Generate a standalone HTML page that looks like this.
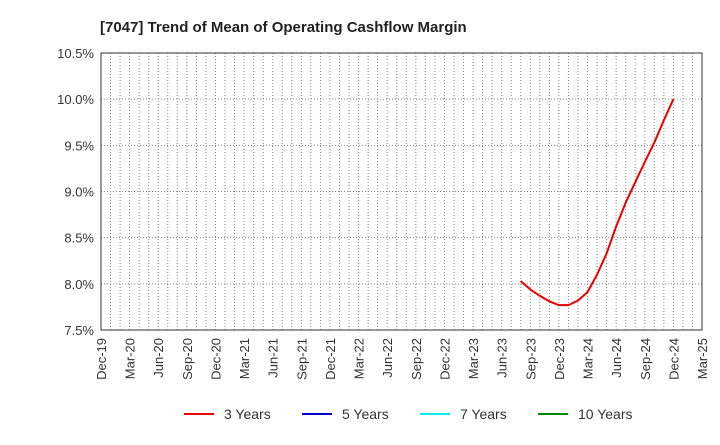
<!DOCTYPE html>
<html><head><meta charset="utf-8"><style>
body{margin:0;background:#fff;font-family:"Liberation Sans",sans-serif}
</style></head><body>
<svg id="c" width="720" height="440" xmlns="http://www.w3.org/2000/svg">
<text x="100" y="32" font-size="15" font-weight="bold" fill="#222">[7047]  Trend of Mean of Operating Cashflow Margin</text>
<g id="grid"></g><g id="axes"></g><g id="series"></g>
<g font-size="14" fill="#333">
<g><line x1="184" y1="414" x2="214" y2="414" stroke="#e00" stroke-width="2"/><text x="224" y="419">3 Years</text></g>
<g><line x1="302" y1="414" x2="332" y2="414" stroke="#00c" stroke-width="2"/><text x="342" y="419">5 Years</text></g>
<g><line x1="420" y1="414" x2="450" y2="414" stroke="#0ee" stroke-width="2"/><text x="460" y="419">7 Years</text></g>
<g><line x1="538" y1="414" x2="568" y2="414" stroke="#080" stroke-width="2"/><text x="578" y="419">10 Years</text></g>
</g>
</svg>
<script>
const xLabels=["Dec-19","Mar-20","Jun-20","Sep-20","Dec-20","Mar-21","Jun-21","Sep-21","Dec-21","Mar-22","Jun-22","Sep-22","Dec-22","Mar-23","Jun-23","Sep-23","Dec-23","Mar-24","Jun-24","Sep-24","Dec-24","Mar-25"];
const yTicks=[7.5,8.0,8.5,9.0,9.5,10.0,10.5];
const startMonth3y=44;
const values3y=[8.03,7.94,7.87,7.81,7.77,7.77,7.82,7.91,8.1,8.33,8.62,8.88,9.1,9.32,9.53,9.77,10.0];
const L=101,R=702,T=53,B=330,NM=63;
const xs=m=>L+(R-L)*m/NM, ys=v=>B-(v-7.5)/3*(B-T);
const NS="http://www.w3.org/2000/svg";
function mk(t,a,p){const e=document.createElementNS(NS,t);for(const k in a)e.setAttribute(k,a[k]);p.appendChild(e);return e;}
const g=document.getElementById('grid'),ax=document.getElementById('axes'),s=document.getElementById('series');
for(let m=1;m<NM;m++){const l=mk('line',{x1:xs(m),x2:xs(m),y1:T,y2:B,stroke:'#888','stroke-dasharray':'1,2','stroke-width':1},g);

}
yTicks.forEach(v=>{const y=ys(v);
const l=mk('line',{x1:L,x2:R,y1:y,y2:y,stroke:'#888','stroke-dasharray':'1,2'},g);


const t=mk('text',{x:L-7,y:y+5,'text-anchor':'end','font-size':13,fill:'#333'},ax);t.textContent=v.toFixed(1)+'%';

});
xLabels.forEach((lb,i)=>{const x=xs(i*3);
const t=mk('text',{transform:`translate(${x+5},${B+8}) rotate(-90)`,'text-anchor':'end','font-size':13,fill:'#333'},ax);t.textContent=lb;

});
const fr=mk('rect',{x:L,y:T,width:R-L,height:B-T,fill:'none',stroke:'#333'},ax);


const pts=values3y.map((v,i)=>xs(startMonth3y+i).toFixed(1)+','+ys(v).toFixed(1)).join(' ');
const pl=mk('polyline',{points:pts,fill:'none',stroke:'#e00','stroke-width':2,'stroke-linejoin':'round'},s);


</script>
</body></html>
